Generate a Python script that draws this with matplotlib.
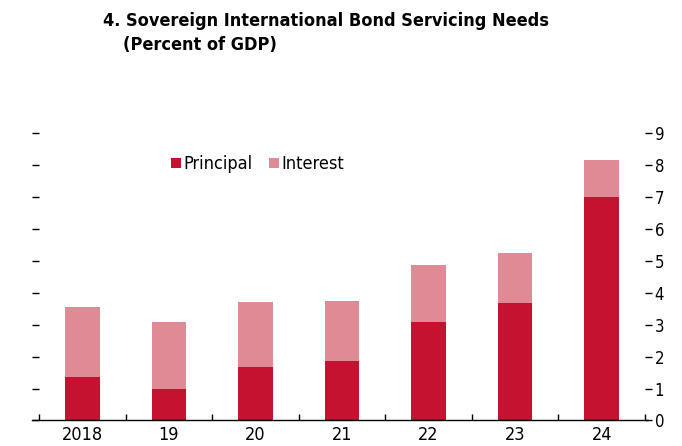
import matplotlib
matplotlib.use("Agg")
import matplotlib.pyplot as plt
import numpy as np

plt.rcParams['font.family'] = ['DejaVu Sans']
plt.rcParams['font.stretch'] = 'condensed'

years = ["2018", "19", "20", "21", "22", "23", "24"]
principal = [1.36, 0.99, 1.66, 1.85, 3.09, 3.67, 6.99]
interest = [2.20, 2.10, 2.05, 1.88, 1.77, 1.56, 1.15]

c_principal = "#C41230"
c_interest = "#E08A96"

fig = plt.figure(figsize=(6.82, 4.46), dpi=100)
ax = fig.add_axes([0.0572, 0.0572, 0.8885, 0.6453])

x = np.arange(len(years))
ax.bar(x, principal, width=0.4, color=c_principal, label="Principal")
ax.bar(x, interest, width=0.4, bottom=principal, color=c_interest, label="Interest")

ax.set_xlim(-0.5, len(years) - 0.5)
ax.set_ylim(0, 9)

for s in ["top", "left", "right"]:
    ax.spines[s].set_visible(False)
ax.spines["bottom"].set_bounds(-0.58, len(years) - 0.48)
ax.spines["bottom"].set_linewidth(1.0)

ax.set_xticks(x)
ax.set_xticklabels(years, fontsize=13)
ax.tick_params(axis="x", which="major", length=0, pad=4)
ax.set_xticks(np.arange(len(years) + 1) - 0.5, minor=True)
ax.tick_params(axis="x", which="minor", direction="in", length=4, width=1)

ax.set_yticks(range(10))
ax.tick_params(axis="y", left=True, right=True, labelleft=False, labelright=True,
               direction="out", length=5, width=1, labelsize=12, pad=2)

ax.legend(loc="center left", bbox_to_anchor=(0.2066, 0.89), ncol=2, frameon=False,
          fontsize=13, handlelength=0.55, handleheight=0.55, handletextpad=0.11,
          columnspacing=0.94, borderaxespad=0)

fig.text(0.151, 0.972, "4. Sovereign International Bond Servicing Needs",
         fontsize=13, fontweight="bold", va="top", ha="left")
fig.text(0.180, 0.92, "(Percent of GDP)",
         fontsize=13, fontweight="bold", va="top", ha="left")

fig.savefig("out.png", dpi=100)
